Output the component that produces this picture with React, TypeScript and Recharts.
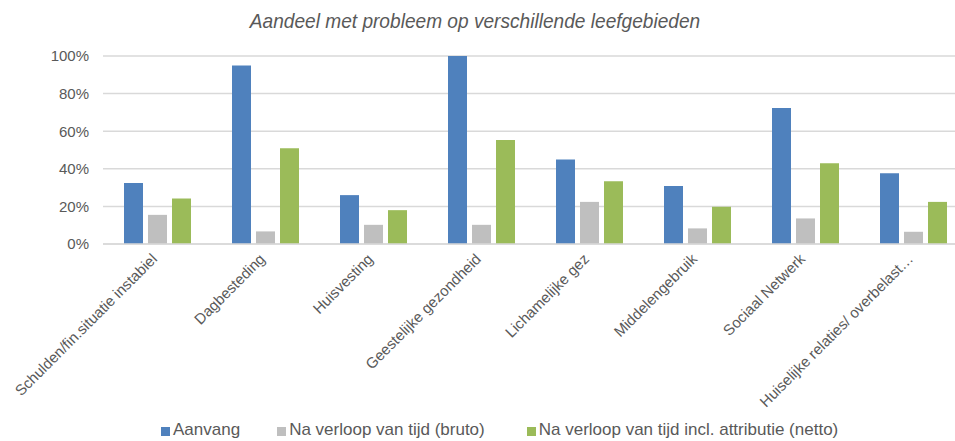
import { BarChart, Bar, XAxis, YAxis, CartesianGrid } from "recharts";

const categories = [
  "Schulden/fin.situatie instabiel",
  "Dagbesteding",
  "Huisvesting",
  "Geestelijke gezondheid",
  "Lichamelijke gez",
  "Middelengebruik",
  "Sociaal Netwerk",
  "Huiselijke relaties/ overbelast…",
];

const aanvang = [0.325, 0.949, 0.26, 1.0, 0.449, 0.308, 0.724, 0.376];
const bruto = [0.155, 0.067, 0.102, 0.102, 0.224, 0.083, 0.136, 0.065];
const netto = [0.242, 0.509, 0.18, 0.553, 0.334, 0.198, 0.429, 0.224];

const yTicks = [0, 0.2, 0.4, 0.6, 0.8, 1.0];

const seriesNames = [
  "Aanvang",
  "Na verloop van tijd (bruto)",
  "Na verloop van tijd incl. attributie (netto)",
];
const colors = ["#4F81BD", "#BFBFBF", "#9BBB59"];

const data = categories.map((name, i) => ({
  name,
  aanvang: aanvang[i],
  bruto: bruto[i],
  netto: netto[i],
}));

const font = "'Liberation Sans', Arial, sans-serif";
const textColor = "#595959";

const XTick = (props: any) => {
  const { x, y, payload } = props;
  const tx = x + 1;
  const ty = y + 10;
  return (
    <text
      x={tx}
      y={ty}
      transform={`rotate(-45, ${tx}, ${ty})`}
      textAnchor="end"
      fill={textColor}
      fontSize={15}
      fontFamily={font}
    >
      {payload.value}
    </text>
  );
};

export default function App() {
  return (
    <div
      style={{
        position: "absolute",
        left: 0,
        top: 0,
        width: 955,
        height: 441,
        overflow: "hidden",
        background: "#fff",
        fontFamily: font,
      }}
    >
      <div
        style={{
          position: "absolute",
          top: 9,
          left: 0,
          width: 950,
          textAlign: "center",
          fontSize: 21,
          fontStyle: "italic",
          color: textColor,
          transform: "scaleX(0.91)",
          transformOrigin: "475px 0",
        }}
      >
        Aandeel met probleem op verschillende leefgebieden
      </div>
      <BarChart
        width={967}
        height={441}
        data={data}
        margin={{ top: 56, right: 0, bottom: 0, left: 0 }}
        barGap={5}
      >
        <CartesianGrid vertical={false} stroke="#D9D9D9" strokeWidth={1.5} />
        <YAxis
          width={103}
          domain={[0, 1]}
          ticks={yTicks}
          tickFormatter={(v: number) => `${Math.round(v * 100)}%`}
          axisLine={false}
          tickLine={false}
          tickSize={0}
          tickMargin={14}
          tick={{ fill: textColor, fontSize: 15, fontFamily: font }}
        />
        <XAxis
          dataKey="name"
          height={197}
          interval={0}
          axisLine={{ stroke: "#D9D9D9", strokeWidth: 1.5 }}
          tickLine={false}
          tickSize={0}
          tickMargin={6}
          tick={<XTick />}
        />
        <Bar dataKey="aanvang" name={seriesNames[0]} fill={colors[0]} barSize={19} isAnimationActive={false} />
        <Bar dataKey="bruto" name={seriesNames[1]} fill={colors[1]} barSize={19} isAnimationActive={false} />
        <Bar dataKey="netto" name={seriesNames[2]} fill={colors[2]} barSize={19} isAnimationActive={false} />
      </BarChart>
      <div
        style={{
          position: "absolute",
          top: 420,
          left: 161,
          display: "flex",
          fontSize: 17,
          lineHeight: "19px",
          color: textColor,
          whiteSpace: "nowrap",
        }}
      >
        {seriesNames.map((s, i) => (
          <div
            key={s}
            style={{
              display: "flex",
              alignItems: "center",
              marginRight: i === 0 ? 37 : 42,
            }}
          >
            <span
              style={{
                display: "inline-block",
                width: 9,
                height: 9,
                background: colors[i],
                marginRight: 3,
                marginTop: 3,
              }}
            />
            {s}
          </div>
        ))}
      </div>
    </div>
  );
}
